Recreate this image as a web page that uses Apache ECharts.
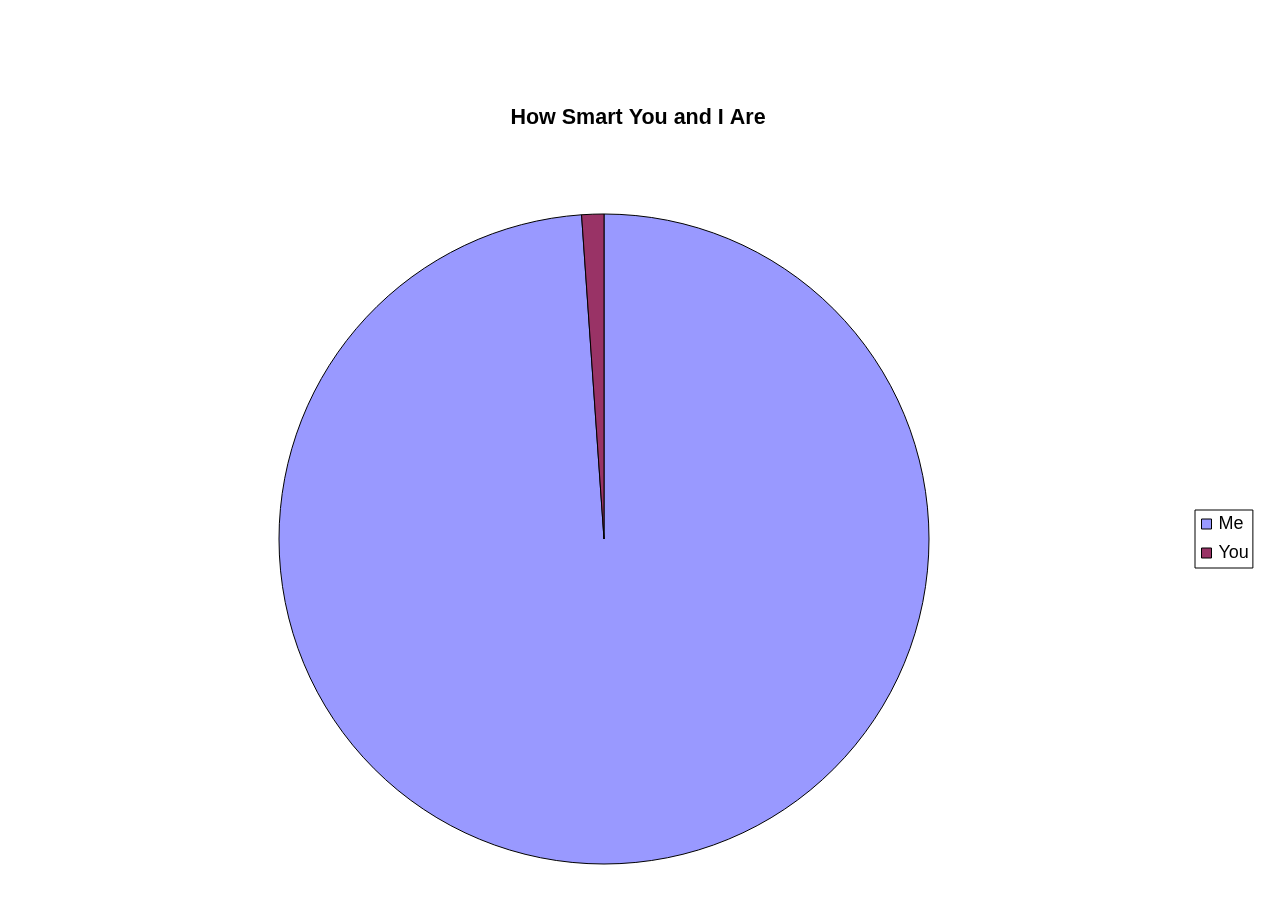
<!DOCTYPE html>
<html>
<head>
<meta charset="utf-8">
<script src="https://cdn.jsdelivr.net/npm/echarts@6/dist/echarts.min.js"></script>
<style>
html,body{margin:0;padding:0;background:#fff;}
#chart{width:1276px;height:912px;}
</style>
</head>
<body>
<div id="chart"></div>
<script>
const categories = ['Me', 'You'];
const values = [98.9, 1.1];
const colors = ['#9999FF', '#993366'];

const chart = echarts.init(document.getElementById('chart'), null, {renderer: 'canvas'});
chart.setOption({
  backgroundColor: '#ffffff',
  animation: false,
  title: {
    text: 'How Smart You and I Are',
    left: 'center',
    top: 107,
    padding: 0,
    textStyle: {fontFamily: 'Liberation Sans, Arial, sans-serif', fontSize: 21.5, fontWeight: 'bold', color: '#000'}
  },
  legend: {
    orient: 'vertical',
    left: 1195,
    top: 510,
    padding: [5, 4, 6, 6],
    borderColor: '#000',
    borderWidth: 1,
    backgroundColor: '#fff',
    icon: 'rect',
    itemWidth: 10,
    itemHeight: 10,
    itemGap: 11,
    itemStyle: {borderColor: '#000', borderWidth: 1},
    textStyle: {fontFamily: 'Liberation Sans, Arial, sans-serif', fontSize: 18, lineHeight: 18, color: '#000', padding: [0, 0, 0, 2]},
    data: categories
  },
  series: [{
    type: 'pie',
    center: [604, 539],
    radius: 325,
    startAngle: 90,
    clockwise: true,
    label: {show: false},
    labelLine: {show: false},
    emphasis: {disabled: true},
    itemStyle: {borderColor: '#000', borderWidth: 1},
    data: categories.map((c, i) => ({name: c, value: values[i], itemStyle: {color: colors[i]}}))
  }]
});
</script>
</body>
</html>
